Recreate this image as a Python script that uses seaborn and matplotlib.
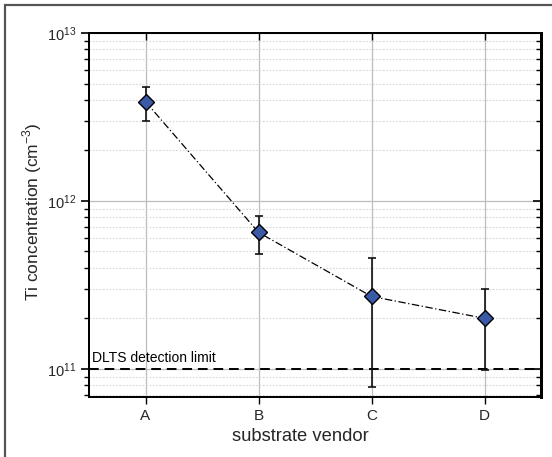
import numpy as np
import pandas as pd
import matplotlib
matplotlib.use("Agg")
import matplotlib.pyplot as plt
from matplotlib.ticker import LogLocator, NullFormatter, FixedLocator
from matplotlib.patches import Rectangle
import seaborn as sns

# Ti concentration per substrate vendor (cm^-3)
vendors = ["A", "B", "C", "D"]
ti_conc = [3.9e12, 6.5e11, 2.7e11, 2.0e11]
err_upper = [4.8e12, 8.1e11, 4.6e11, 3.0e11]
err_lower = [3.0e12, 4.85e11, 7.8e10, 9.8e10]
dlts_limit = 1e11

df = pd.DataFrame({"vendor": vendors, "ti": ti_conc})

sns.set_theme(style="white")
plt.rcParams["font.family"] = ["Liberation Sans", "DejaVu Sans"]

fig = plt.figure(figsize=(5.52, 4.57), dpi=100)
ax = fig.add_axes([89 / 552, 1 - 397 / 457, (541 - 89) / 552, (397 - 33) / 457])

# outer frame
fig.patches.append(Rectangle((5 / 552, -0.1), 1.2, 1 - 5 / 457 + 0.1,
                             transform=fig.transFigure, fill=False,
                             edgecolor="#555555", linewidth=1.6, zorder=0))

ylim = (6.8e10, 1e13)
xlim = (-0.5, 3.5)
ax.set_yscale("log")
ax.set_ylim(*ylim)
ax.set_xlim(*xlim)

# grid
ax.set_axisbelow(True)
ax.grid(True, which="major", axis="y", color="#bdbdbd", linewidth=0.9, linestyle="-")
ax.grid(True, which="minor", axis="y", color="#d6d6d6", linewidth=0.8, linestyle=(0, (1.5, 1.5)))
ax.grid(True, which="major", axis="x", color="#bdbdbd", linewidth=0.9, linestyle="-")

# detection limit
ax.axhline(dlts_limit, color="black", linewidth=1.4, linestyle=(0, (5, 3)), zorder=2)
ax.text(-0.475, dlts_limit * 1.05, "DLTS detection limit", fontsize=10,
        ha="left", va="bottom", color="black")

x = np.arange(len(vendors))
yerr = np.array([np.array(ti_conc) - np.array(err_lower),
                 np.array(err_upper) - np.array(ti_conc)])
ax.errorbar(x, ti_conc, yerr=yerr, fmt="none", ecolor="#111111",
            elinewidth=1.2, capsize=3.0, capthick=1.2, zorder=3)

sns.lineplot(data=df, x="vendor", y="ti", ax=ax, color="black", linewidth=0.9,
             linestyle=(0, (6, 2, 1, 2)), marker="D", markersize=8.5,
             markerfacecolor="#3a5aa8", markeredgecolor="black",
             markeredgewidth=1.0, zorder=4)

ax.set_xticks(x)
ax.set_xticklabels(vendors)
ax.yaxis.set_major_locator(FixedLocator([1e11, 1e12, 1e13]))
ax.yaxis.set_minor_locator(LogLocator(base=10, subs=np.arange(2, 10)))
ax.yaxis.set_minor_formatter(NullFormatter())
ax.set_yticklabels([r"$\mathregular{10^{11}}$", r"$\mathregular{10^{12}}$",
                    r"$\mathregular{10^{13}}$"])

ax.tick_params(axis="y", which="major", direction="out", length=6, width=1.2,
               labelsize=10.5, color="black", pad=3)
ax.tick_params(axis="y", which="minor", direction="out", length=3.5, width=1.0,
               color="black")
ax.tick_params(axis="x", which="major", direction="out", length=5, width=1.0,
               labelsize=11, color="black", pad=4)
ax.tick_params(axis="x", which="minor", bottom=False, top=False)

# inward ticks on the right and top
axr = ax.twinx()
axr.set_yscale("log")
axr.set_ylim(*ylim)
axr.yaxis.set_major_locator(FixedLocator([1e11, 1e12, 1e13]))
axr.yaxis.set_minor_locator(LogLocator(base=10, subs=np.arange(2, 10)))
axr.tick_params(axis="y", which="major", direction="in", length=6, width=1.2,
                labelright=False, color="black")
axr.tick_params(axis="y", which="minor", direction="in", length=3.5, width=1.0,
                labelright=False, color="black")
axr.grid(False)

axt = ax.twiny()
axt.set_xlim(*xlim)
axt.set_xticks(x)
axt.tick_params(axis="x", which="major", direction="in", length=5, width=1.0,
                labeltop=False, color="black")
axt.grid(False)

for a in (ax, axr, axt):
    for side in ["left", "bottom", "top"]:
        a.spines[side].set_color("black")
        a.spines[side].set_linewidth(1.3)
    a.spines["right"].set_color("black")
    a.spines["right"].set_linewidth(2.0)

ax.set_xlabel("substrate vendor", fontsize=13.2)
ax.xaxis.set_label_coords((300 - 89) / 452, -0.085)
ax.set_ylabel(r"Ti concentration (cm$^{\mathregular{-3}}$)", fontsize=12.5)
ax.yaxis.set_label_coords(-0.1, 0.51)

fig.savefig("out.png", dpi=100)
